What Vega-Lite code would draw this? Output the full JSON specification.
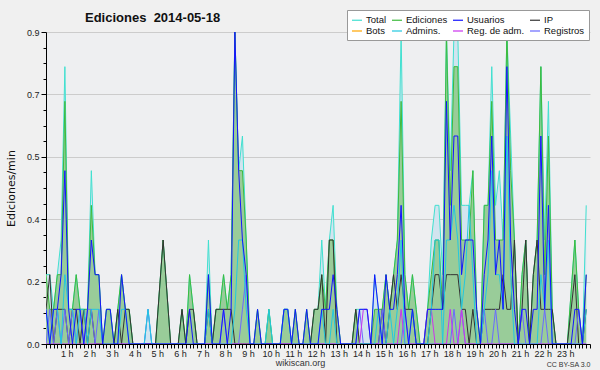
{
  "$schema": "https://vega.github.io/schema/vega-lite/v6.json",
  "width": 544,
  "height": 312,
  "autosize": {"type": "none"},
  "padding": {"left": 46, "top": 32, "right": 10, "bottom": 26},
  "background": "#F0F0F0",
  "title": {"text": "Ediciones\u00a0 2014-05-18", "anchor": "start", "frame": "group", "dx": 39, "offset": -15, "font": "Liberation Sans", "fontSize": 13, "fontWeight": "bold", "color": "#111111"},
  "data": {"values": [
    {"t":0,"T":0.2,"E":0.2,"U":0.1,"IP":0.1,"B":0,"A":0.1,"RA":0,"R":0},
    {"t":10,"T":0.2,"E":0.1,"U":0,"IP":0.2,"B":0,"A":0,"RA":0,"R":0.1},
    {"t":20,"T":0.1,"E":0.1,"U":0.1,"IP":0,"B":0,"A":0.1,"RA":0,"R":0},
    {"t":30,"T":0.2,"E":0.2,"U":0.1,"IP":0.1,"B":0,"A":0.1,"RA":0,"R":0.1},
    {"t":40,"T":0.3,"E":0.2,"U":0.2,"IP":0.1,"B":0,"A":0,"RA":0,"R":0},
    {"t":50,"T":0.8,"E":0.7,"U":0.5,"IP":0.1,"B":0,"A":0.2,"RA":0,"R":0.1},
    {"t":60,"T":0.1,"E":0.1,"U":0.1,"IP":0,"B":0,"A":0.1,"RA":0,"R":0},
    {"t":70,"T":0.1,"E":0.1,"U":0,"IP":0.1,"B":0,"A":0.1,"RA":0,"R":0.1},
    {"t":80,"T":0.2,"E":0.2,"U":0.1,"IP":0.1,"B":0,"A":0,"RA":0,"R":0},
    {"t":90,"T":0.1,"E":0.1,"U":0.1,"IP":0,"B":0,"A":0.1,"RA":0,"R":0.1},
    {"t":100,"T":0.1,"E":0.1,"U":0,"IP":0.1,"B":0,"A":0.1,"RA":0,"R":0},
    {"t":110,"T":0.1,"E":0.1,"U":0.1,"IP":0,"B":0,"A":0,"RA":0,"R":0.1},
    {"t":120,"T":0.5,"E":0.4,"U":0.3,"IP":0.1,"B":0,"A":0.1,"RA":0,"R":0.1},
    {"t":130,"T":0.2,"E":0.2,"U":0.2,"IP":0,"B":0,"A":0.1,"RA":0,"R":0},
    {"t":140,"T":0.2,"E":0.2,"U":0.2,"IP":0,"B":0,"A":0.1,"RA":0,"R":0.1},
    {"t":150,"T":0,"E":0,"U":0,"IP":0,"B":0,"A":0,"RA":0,"R":0},
    {"t":160,"T":0.1,"E":0.1,"U":0.1,"IP":0,"B":0,"A":0,"RA":0,"R":0},
    {"t":170,"T":0.1,"E":0.1,"U":0.1,"IP":0,"B":0,"A":0,"RA":0,"R":0},
    {"t":180,"T":0,"E":0,"U":0,"IP":0,"B":0,"A":0,"RA":0,"R":0},
    {"t":190,"T":0.1,"E":0.1,"U":0,"IP":0.1,"B":0,"A":0,"RA":0,"R":0},
    {"t":200,"T":0.2,"E":0.2,"U":0.2,"IP":0,"B":0,"A":0.1,"RA":0,"R":0},
    {"t":210,"T":0.1,"E":0.1,"U":0.1,"IP":0.1,"B":0,"A":0.1,"RA":0,"R":0},
    {"t":220,"T":0.1,"E":0.1,"U":0,"IP":0.1,"B":0,"A":0,"RA":0,"R":0},
    {"t":230,"T":0,"E":0,"U":0,"IP":0,"B":0,"A":0,"RA":0,"R":0},
    {"t":240,"T":0,"E":0,"U":0,"IP":0,"B":0,"A":0,"RA":0,"R":0},
    {"t":250,"T":0,"E":0,"U":0,"IP":0,"B":0,"A":0,"RA":0,"R":0},
    {"t":260,"T":0,"E":0,"U":0,"IP":0,"B":0,"A":0,"RA":0,"R":0},
    {"t":270,"T":0.1,"E":0,"U":0,"IP":0,"B":0,"A":0.1,"RA":0,"R":0.1},
    {"t":280,"T":0,"E":0,"U":0,"IP":0,"B":0,"A":0,"RA":0,"R":0},
    {"t":290,"T":0,"E":0,"U":0,"IP":0,"B":0,"A":0,"RA":0,"R":0},
    {"t":300,"T":0.15,"E":0.15,"U":0,"IP":0.15,"B":0,"A":0,"RA":0,"R":0},
    {"t":310,"T":0.3,"E":0.3,"U":0,"IP":0.3,"B":0,"A":0,"RA":0,"R":0},
    {"t":320,"T":0.15,"E":0.15,"U":0,"IP":0.15,"B":0,"A":0,"RA":0,"R":0},
    {"t":330,"T":0,"E":0,"U":0,"IP":0,"B":0,"A":0,"RA":0,"R":0},
    {"t":340,"T":0,"E":0,"U":0,"IP":0,"B":0,"A":0,"RA":0,"R":0},
    {"t":350,"T":0,"E":0,"U":0,"IP":0,"B":0,"A":0,"RA":0,"R":0},
    {"t":360,"T":0.1,"E":0.1,"U":0,"IP":0.1,"B":0,"A":0,"RA":0,"R":0},
    {"t":370,"T":0,"E":0,"U":0,"IP":0,"B":0,"A":0,"RA":0,"R":0},
    {"t":380,"T":0.2,"E":0.2,"U":0.1,"IP":0.1,"B":0,"A":0,"RA":0,"R":0},
    {"t":390,"T":0.1,"E":0.1,"U":0,"IP":0.1,"B":0,"A":0,"RA":0,"R":0},
    {"t":400,"T":0,"E":0,"U":0,"IP":0,"B":0,"A":0,"RA":0,"R":0},
    {"t":410,"T":0,"E":0,"U":0,"IP":0,"B":0,"A":0,"RA":0,"R":0},
    {"t":420,"T":0,"E":0,"U":0,"IP":0,"B":0,"A":0,"RA":0,"R":0},
    {"t":430,"T":0.3,"E":0.2,"U":0.2,"IP":0.1,"B":0,"A":0.1,"RA":0,"R":0},
    {"t":440,"T":0,"E":0,"U":0,"IP":0,"B":0,"A":0,"RA":0,"R":0},
    {"t":450,"T":0.1,"E":0.1,"U":0,"IP":0.1,"B":0,"A":0,"RA":0,"R":0},
    {"t":460,"T":0.1,"E":0.1,"U":0,"IP":0.1,"B":0,"A":0,"RA":0,"R":0},
    {"t":470,"T":0.2,"E":0.2,"U":0.1,"IP":0.1,"B":0,"A":0,"RA":0,"R":0.1},
    {"t":480,"T":0.1,"E":0.1,"U":0,"IP":0.1,"B":0,"A":0,"RA":0,"R":0},
    {"t":490,"T":0.2,"E":0.2,"U":0.1,"IP":0.1,"B":0,"A":0,"RA":0,"R":0},
    {"t":500,"T":0.9,"E":0.9,"U":0.9,"IP":0,"B":0,"A":0.1,"RA":0,"R":0},
    {"t":510,"T":0.5,"E":0.5,"U":0.5,"IP":0,"B":0,"A":0.3,"RA":0,"R":0},
    {"t":520,"T":0.6,"E":0.5,"U":0.3,"IP":0,"B":0,"A":0.3,"RA":0,"R":0.1},
    {"t":530,"T":0.3,"E":0.3,"U":0.2,"IP":0,"B":0,"A":0.1,"RA":0,"R":0.2},
    {"t":540,"T":0,"E":0,"U":0,"IP":0,"B":0,"A":0,"RA":0,"R":0},
    {"t":550,"T":0,"E":0,"U":0,"IP":0,"B":0,"A":0,"RA":0,"R":0},
    {"t":560,"T":0.1,"E":0.1,"U":0.1,"IP":0,"B":0,"A":0,"RA":0,"R":0},
    {"t":570,"T":0,"E":0,"U":0,"IP":0,"B":0,"A":0,"RA":0,"R":0},
    {"t":580,"T":0,"E":0,"U":0,"IP":0,"B":0,"A":0,"RA":0,"R":0},
    {"t":590,"T":0.1,"E":0.1,"U":0,"IP":0,"B":0,"A":0.1,"RA":0,"R":0},
    {"t":600,"T":0,"E":0,"U":0,"IP":0,"B":0,"A":0,"RA":0,"R":0},
    {"t":610,"T":0,"E":0,"U":0,"IP":0,"B":0,"A":0,"RA":0,"R":0},
    {"t":620,"T":0,"E":0,"U":0,"IP":0,"B":0,"A":0,"RA":0,"R":0},
    {"t":630,"T":0.1,"E":0.1,"U":0.1,"IP":0,"B":0,"A":0.1,"RA":0,"R":0},
    {"t":640,"T":0.1,"E":0.1,"U":0.1,"IP":0,"B":0,"A":0.1,"RA":0,"R":0},
    {"t":650,"T":0,"E":0,"U":0,"IP":0,"B":0,"A":0,"RA":0,"R":0},
    {"t":660,"T":0.1,"E":0.1,"U":0.1,"IP":0,"B":0,"A":0,"RA":0,"R":0},
    {"t":670,"T":0,"E":0,"U":0,"IP":0,"B":0,"A":0,"RA":0,"R":0},
    {"t":680,"T":0,"E":0,"U":0,"IP":0,"B":0,"A":0,"RA":0,"R":0},
    {"t":690,"T":0.1,"E":0.1,"U":0.1,"IP":0,"B":0,"A":0,"RA":0,"R":0},
    {"t":700,"T":0,"E":0,"U":0,"IP":0,"B":0,"A":0,"RA":0,"R":0},
    {"t":710,"T":0.1,"E":0.1,"U":0,"IP":0.1,"B":0,"A":0,"RA":0,"R":0},
    {"t":720,"T":0.1,"E":0.1,"U":0,"IP":0.1,"B":0,"A":0,"RA":0,"R":0},
    {"t":730,"T":0.3,"E":0.2,"U":0.1,"IP":0.2,"B":0,"A":0.1,"RA":0,"R":0},
    {"t":740,"T":0.1,"E":0.1,"U":0.1,"IP":0,"B":0,"A":0,"RA":0,"R":0},
    {"t":750,"T":0.3,"E":0.3,"U":0.1,"IP":0.3,"B":0,"A":0,"RA":0,"R":0},
    {"t":760,"T":0.4,"E":0.3,"U":0.2,"IP":0.3,"B":0,"A":0.1,"RA":0,"R":0},
    {"t":770,"T":0.1,"E":0.1,"U":0.1,"IP":0,"B":0,"A":0,"RA":0,"R":0},
    {"t":780,"T":0,"E":0,"U":0,"IP":0,"B":0,"A":0,"RA":0,"R":0},
    {"t":790,"T":0,"E":0,"U":0,"IP":0,"B":0,"A":0,"RA":0,"R":0},
    {"t":800,"T":0,"E":0,"U":0,"IP":0,"B":0,"A":0,"RA":0,"R":0},
    {"t":810,"T":0,"E":0,"U":0,"IP":0,"B":0,"A":0,"RA":0,"R":0},
    {"t":820,"T":0.1,"E":0.1,"U":0,"IP":0.1,"B":0,"A":0,"RA":0,"R":0},
    {"t":830,"T":0.1,"E":0,"U":0.1,"IP":0,"B":0,"A":0,"RA":0,"R":0.1},
    {"t":840,"T":0.1,"E":0,"U":0.1,"IP":0,"B":0,"A":0,"RA":0.1,"R":0},
    {"t":850,"T":0.1,"E":0,"U":0.1,"IP":0,"B":0,"A":0,"RA":0.1,"R":0},
    {"t":860,"T":0,"E":0,"U":0,"IP":0,"B":0,"A":0,"RA":0,"R":0},
    {"t":870,"T":0.2,"E":0.1,"U":0.2,"IP":0,"B":0,"A":0,"RA":0,"R":0},
    {"t":880,"T":0.1,"E":0.1,"U":0.1,"IP":0,"B":0,"A":0.1,"RA":0,"R":0},
    {"t":890,"T":0.1,"E":0.1,"U":0,"IP":0.1,"B":0,"A":0,"RA":0,"R":0.1},
    {"t":900,"T":0.2,"E":0.2,"U":0.2,"IP":0,"B":0,"A":0,"RA":0,"R":0},
    {"t":910,"T":0.1,"E":0.1,"U":0.1,"IP":0.1,"B":0,"A":0.1,"RA":0,"R":0},
    {"t":920,"T":0.2,"E":0.2,"U":0.1,"IP":0.2,"B":0,"A":0,"RA":0,"R":0},
    {"t":930,"T":0.3,"E":0.3,"U":0.2,"IP":0.1,"B":0,"A":0.1,"RA":0,"R":0},
    {"t":940,"T":0.9,"E":0.7,"U":0.4,"IP":0.2,"B":0,"A":0.3,"RA":0.1,"R":0},
    {"t":950,"T":0.2,"E":0.2,"U":0.1,"IP":0.1,"B":0,"A":0,"RA":0,"R":0.1},
    {"t":960,"T":0.1,"E":0.1,"U":0,"IP":0.1,"B":0,"A":0,"RA":0,"R":0},
    {"t":970,"T":0.2,"E":0.2,"U":0.1,"IP":0.1,"B":0,"A":0.1,"RA":0,"R":0},
    {"t":980,"T":0.1,"E":0.1,"U":0,"IP":0,"B":0,"A":0,"RA":0,"R":0},
    {"t":990,"T":0,"E":0,"U":0,"IP":0,"B":0,"A":0,"RA":0,"R":0},
    {"t":1000,"T":0,"E":0,"U":0,"IP":0,"B":0,"A":0,"RA":0,"R":0},
    {"t":1010,"T":0.1,"E":0.1,"U":0.1,"IP":0,"B":0,"A":0,"RA":0.1,"R":0},
    {"t":1020,"T":0.3,"E":0.2,"U":0.1,"IP":0.1,"B":0,"A":0.1,"RA":0.1,"R":0},
    {"t":1030,"T":0.4,"E":0.3,"U":0.1,"IP":0.2,"B":0,"A":0.3,"RA":0,"R":0},
    {"t":1040,"T":0.4,"E":0.3,"U":0.1,"IP":0.2,"B":0,"A":0.3,"RA":0,"R":0},
    {"t":1050,"T":0.2,"E":0.1,"U":0.1,"IP":0.1,"B":0,"A":0,"RA":0,"R":0},
    {"t":1060,"T":0.9,"E":0.9,"U":0.7,"IP":0.2,"B":0,"A":0.3,"RA":0,"R":0},
    {"t":1070,"T":0.5,"E":0.4,"U":0.3,"IP":0.2,"B":0,"A":0.3,"RA":0.1,"R":0},
    {"t":1080,"T":0.9,"E":0.8,"U":0.6,"IP":0.2,"B":0,"A":0.4,"RA":0,"R":0.1},
    {"t":1090,"T":0.9,"E":0.8,"U":0.6,"IP":0.2,"B":0,"A":0.3,"RA":0,"R":0},
    {"t":1100,"T":0.4,"E":0.3,"U":0.2,"IP":0.1,"B":0,"A":0.1,"RA":0.1,"R":0.1},
    {"t":1110,"T":0.4,"E":0.3,"U":0.3,"IP":0.1,"B":0,"A":0.2,"RA":0,"R":0},
    {"t":1120,"T":0.4,"E":0.3,"U":0.3,"IP":0,"B":0,"A":0.4,"RA":0,"R":0},
    {"t":1130,"T":0.5,"E":0.5,"U":0.3,"IP":0.1,"B":0,"A":0.2,"RA":0,"R":0},
    {"t":1140,"T":0.1,"E":0.1,"U":0.1,"IP":0,"B":0,"A":0,"RA":0,"R":0},
    {"t":1150,"T":0,"E":0,"U":0,"IP":0,"B":0,"A":0,"RA":0,"R":0},
    {"t":1160,"T":0.4,"E":0.4,"U":0.2,"IP":0.1,"B":0,"A":0.1,"RA":0,"R":0.1},
    {"t":1170,"T":0.4,"E":0.4,"U":0.3,"IP":0.1,"B":0,"A":0.2,"RA":0,"R":0},
    {"t":1180,"T":0.8,"E":0.7,"U":0.6,"IP":0.1,"B":0,"A":0.5,"RA":0,"R":0},
    {"t":1190,"T":0.4,"E":0.3,"U":0.2,"IP":0.1,"B":0,"A":0.2,"RA":0,"R":0.1},
    {"t":1200,"T":0.5,"E":0.3,"U":0.3,"IP":0.1,"B":0,"A":0.2,"RA":0,"R":0},
    {"t":1210,"T":0.3,"E":0.3,"U":0.1,"IP":0.2,"B":0,"A":0.1,"RA":0,"R":0},
    {"t":1220,"T":0.9,"E":0.9,"U":0.8,"IP":0.1,"B":0,"A":0.6,"RA":0,"R":0},
    {"t":1230,"T":0.6,"E":0.5,"U":0.3,"IP":0.1,"B":0,"A":0.2,"RA":0,"R":0},
    {"t":1240,"T":0.3,"E":0.3,"U":0.1,"IP":0.3,"B":0,"A":0,"RA":0,"R":0},
    {"t":1250,"T":0,"E":0,"U":0,"IP":0,"B":0,"A":0,"RA":0,"R":0},
    {"t":1260,"T":0.2,"E":0.2,"U":0.1,"IP":0.1,"B":0,"A":0,"RA":0,"R":0.1},
    {"t":1270,"T":0.3,"E":0.3,"U":0.1,"IP":0.3,"B":0,"A":0,"RA":0,"R":0},
    {"t":1280,"T":0,"E":0,"U":0,"IP":0,"B":0,"A":0,"RA":0,"R":0},
    {"t":1290,"T":0.2,"E":0.2,"U":0.1,"IP":0.2,"B":0,"A":0,"RA":0,"R":0},
    {"t":1300,"T":0.3,"E":0.3,"U":0.1,"IP":0.3,"B":0,"A":0,"RA":0,"R":0},
    {"t":1310,"T":0.8,"E":0.8,"U":0.6,"IP":0.1,"B":0,"A":0.2,"RA":0,"R":0},
    {"t":1320,"T":0.3,"E":0.2,"U":0.1,"IP":0.1,"B":0,"A":0.1,"RA":0,"R":0.1},
    {"t":1330,"T":0.7,"E":0.6,"U":0.4,"IP":0.1,"B":0,"A":0.3,"RA":0,"R":0},
    {"t":1340,"T":0.1,"E":0.1,"U":0,"IP":0.1,"B":0,"A":0,"RA":0,"R":0},
    {"t":1350,"T":0,"E":0,"U":0,"IP":0,"B":0,"A":0,"RA":0,"R":0},
    {"t":1360,"T":0,"E":0,"U":0,"IP":0,"B":0,"A":0,"RA":0,"R":0},
    {"t":1370,"T":0,"E":0,"U":0,"IP":0,"B":0,"A":0,"RA":0,"R":0},
    {"t":1380,"T":0,"E":0,"U":0,"IP":0,"B":0,"A":0,"RA":0,"R":0},
    {"t":1390,"T":0.15,"E":0.15,"U":0,"IP":0.1,"B":0,"A":0,"RA":0,"R":0},
    {"t":1400,"T":0.3,"E":0.3,"U":0.1,"IP":0.2,"B":0,"A":0,"RA":0,"R":0},
    {"t":1410,"T":0.1,"E":0.1,"U":0.1,"IP":0,"B":0,"A":0,"RA":0,"R":0.1},
    {"t":1420,"T":0,"E":0,"U":0,"IP":0,"B":0,"A":0,"RA":0,"R":0},
    {"t":1430,"T":0.4,"E":0.2,"U":0.2,"IP":0.1,"B":0,"A":0.1,"RA":0,"R":0}
  ]},
  "transform": [{"fold": ["T", "E", "B", "IP", "R", "RA", "A", "U"], "as": ["k", "v"]}],
  "encoding": {
    "x": {"field": "t", "type": "quantitative", "scale": {"domain": [0, 1440], "nice": false, "zero": false},
      "axis": {"title": "wikiscan.org", "titleFont": "Liberation Sans", "titleFontSize": 9, "titleFontWeight": "normal", "titleColor": "#333333", "titleX": 254, "titleY": 21, "titleAlign": "center", "titleBaseline": "alphabetic",
        "tickCount": 144, "labelExpr": "datum.value % 60 == 0 && datum.value > 0 && datum.value < 1440 ? (datum.value / 60) + ' h' : ''",
        "labelOverlap": false, "labelBound": false, "labelFlush": false, "labelOffset": -2, "tickSize": 4, "tickColor": "#000000", "domainColor": "#000000",
        "labelFont": "Liberation Sans", "labelFontSize": 9, "labelColor": "#222222", "labelPadding": 1, "grid": false, "zindex": 1}},
    "y": {"field": "v", "type": "quantitative", "scale": {"domain": [0, 0.9], "nice": false},
      "axis": {"title": "Ediciones/min", "titleFont": "DejaVu Sans", "titleFontSize": 11, "titleFontWeight": "normal", "titleColor": "#111111", "titlePadding": 10,
        "values": [0, 0.045, 0.09, 0.135, 0.18, 0.225, 0.27, 0.315, 0.36, 0.405, 0.45, 0.495, 0.54, 0.585, 0.63, 0.675, 0.72, 0.765, 0.81, 0.855, 0.9],
        "labelExpr": "indexof([0, 0.18, 0.36, 0.54, 0.72, 0.9], datum.value) >= 0 ? format(datum.value, '.1f') : ''",
        "tickSize": {"condition": {"test": "indexof([0, 0.18, 0.36, 0.54, 0.72, 0.9], datum.value) >= 0", "value": 5}, "value": 3},
        "gridOpacity": {"condition": {"test": "indexof([0, 0.18, 0.36, 0.54, 0.72, 0.9], datum.value) >= 0", "value": 1}, "value": 0},
        "gridColor": "#CCCCCC", "domainColor": "#000000", "tickColor": "#000000",
        "labelFont": "Liberation Sans", "labelFontSize": 9, "labelColor": "#222222", "labelPadding": 2, "labelOverlap": false, "zindex": 0}}
  },
  "layer": [
    {"transform": [{"filter": "datum.k == 'T'"}], "mark": {"type": "area", "fill": "#D2E4EF", "clip": true}},
    {"transform": [{"filter": "datum.k == 'E'"}], "mark": {"type": "area", "fill": "#99CC99", "clip": true},
      "encoding": {"x": {"field": "t", "type": "quantitative", "axis": null}}},
    {"transform": [{"filter": "datum.k != 'B'"}], "mark": {"type": "line", "strokeWidth": 1, "clip": true},
      "encoding": {
        "x": {"field": "t", "type": "quantitative", "axis": {"orient": "bottom", "title": "CC BY-SA 3.0", "titleFont": "Liberation Sans", "titleFontSize": 7, "titleFontWeight": "normal", "titleColor": "#333333", "titleX": 544, "titleY": 22, "titleAlign": "right", "titleBaseline": "alphabetic", "labels": false, "ticks": false, "domain": false, "grid": false}},
        "color": {"field": "k", "type": "nominal",
          "scale": {"domain": ["T", "E", "U", "IP", "B", "A", "RA", "R"], "range": ["#40E0D0", "#3DBB3D", "#1414FF", "#333333", "#FFA500", "#22C8E0", "#CC33EE", "#6A6AFF"]},
          "legend": {"orient": "none", "legendX": 301, "legendY": -22, "direction": "horizontal", "columns": 4, "title": null,
            "symbolType": "stroke", "symbolSize": 100, "symbolStrokeWidth": 1.2, "labelFont": "Liberation Sans", "labelFontSize": 9.5, "labelColor": "#111111",
            "fillColor": "#FFFFFF", "strokeColor": "#999999", "padding": 4, "rowPadding": 0, "columnPadding": 2, "labelOffset": 3,
            "labelExpr": "datum.label == 'T' ? 'Total' : datum.label == 'E' ? 'Ediciones' : datum.label == 'U' ? 'Usuarios' : datum.label == 'B' ? 'Bots' : datum.label == 'A' ? 'Admins.' : datum.label == 'RA' ? 'Reg. de adm.' : datum.label == 'R' ? 'Registros' : datum.label"}}
      }}
  ],
  "resolve": {"axis": {"x": "independent"}},
  "config": {"font": "Liberation Sans", "view": {"fill": "#EEEFF1", "stroke": null}}
}
